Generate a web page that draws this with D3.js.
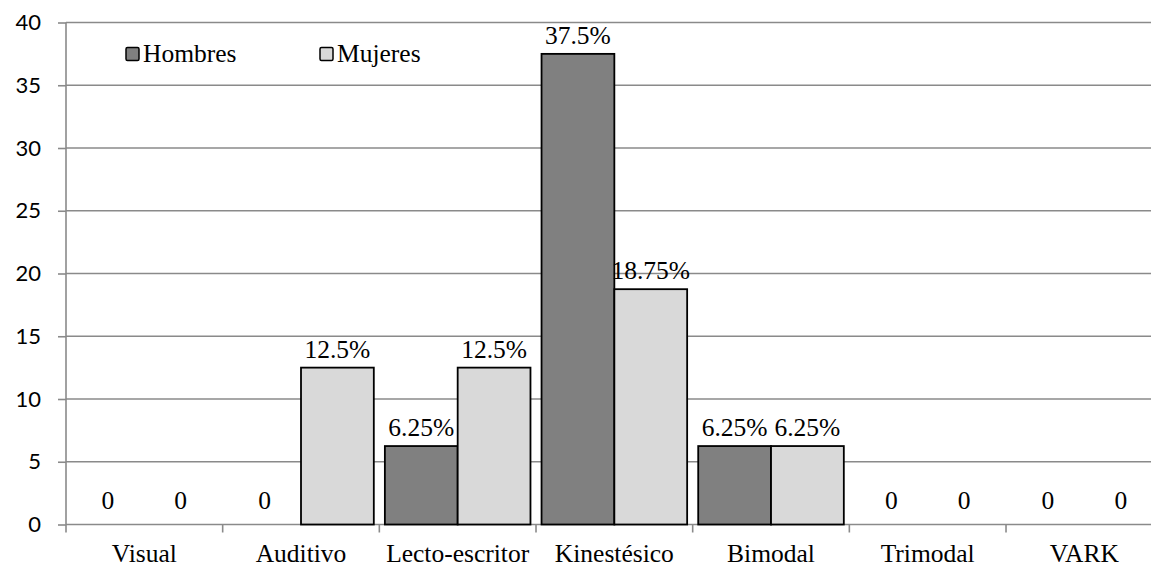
<!DOCTYPE html>
<html>
<head>
<meta charset="utf-8">
<script src="https://cdn.jsdelivr.net/npm/d3@7"></script>
<style>
  html, body { margin: 0; padding: 0; background: #fff; }
  svg { display: block; }
  .serif { font-family: "Liberation Serif", "Times New Roman", Tinos, "DejaVu Serif", serif; font-size: 25.5px; fill: #000; }
  .sans { font-family: Lato, "Open Sans", "Liberation Sans", sans-serif; font-size: 22px; fill: #000; }
</style>
</head>
<body>
<svg id="chart" width="1151" height="567"></svg>
<script>
// Learning-style categories (VARK) and percentage of each group
const categories = ["Visual", "Auditivo", "Lecto-escritor", "Kinestésico", "Bimodal", "Trimodal", "VARK"];
const seriesNames = ["Hombres", "Mujeres"];
const hombres = [0, 0, 6.25, 37.5, 6.25, 0, 0];
const mujeres = [0, 12.5, 12.5, 18.75, 6.25, 0, 0];
const yTicks = [0, 5, 10, 15, 20, 25, 30, 35, 40];
const colors = ["#808080", "#d9d9d9"];

const svg = d3.select("#chart");
const plotLeft = 66, plotTop = 22.5, plotBottom = 524.5;
const step = 156.67;
const plotRight = plotLeft + step * categories.length;

const x = d3.scaleBand().domain(categories).range([plotLeft, plotRight]).padding(0);
const xs = d3.scaleBand().domain(seriesNames).range([0, x.bandwidth()]).paddingInner(0).paddingOuter(0.076);
const y = d3.scaleLinear().domain([0, 40]).range([plotBottom, plotTop]);

const grid = "#8a8a8a";

// Y axis: tick stubs and numbers
const yAxis = d3.axisLeft(y).tickValues(yTicks).tickSize(8).tickPadding(17).tickFormat(d3.format("d"));
const gy = svg.append("g").attr("transform", `translate(${plotLeft},0)`).call(yAxis)
  .attr("font-family", null).attr("font-size", null);
gy.select(".domain").remove();
gy.selectAll(".tick line").attr("stroke", grid).attr("stroke-width", 1.6);
gy.selectAll(".tick text").attr("class", "sans").attr("fill", null);

// Horizontal gridlines
svg.append("g").selectAll("line").data(yTicks).join("line")
  .attr("x1", plotLeft).attr("x2", plotRight)
  .attr("y1", d => y(d)).attr("y2", d => y(d))
  .attr("stroke", grid).attr("stroke-width", 1.6);

// Vertical axis line
svg.append("line").attr("x1", plotLeft).attr("x2", plotLeft).attr("y1", plotTop).attr("y2", plotBottom)
  .attr("stroke", grid).attr("stroke-width", 1.6);

// Category boundary ticks below the baseline
const bounds = d3.range(categories.length + 1).map(i => plotLeft + i * x.step());
svg.append("g").selectAll("line").data(bounds).join("line")
  .attr("x1", d => d).attr("x2", d => d)
  .attr("y1", plotBottom).attr("y2", plotBottom + 8)
  .attr("stroke", grid).attr("stroke-width", 1.6);

// Category labels
svg.append("g").selectAll("text").data(categories).join("text")
  .attr("class", "serif")
  .attr("x", d => x(d) + x.bandwidth() / 2)
  .attr("y", 562)
  .attr("text-anchor", "middle")
  .text(d => d);

// Bars
const rows = categories.map((c, i) => ({ c, vals: [hombres[i], mujeres[i]] }));
const groups = svg.append("g").selectAll("g").data(rows).join("g")
  .attr("transform", d => `translate(${x(d.c)},0)`);

groups.selectAll("rect").data(d => d.vals.map((v, j) => ({ v, s: seriesNames[j], j })).filter(d => d.v > 0))
  .join("rect")
  .attr("x", d => xs(d.s))
  .attr("y", d => y(d.v))
  .attr("width", xs.bandwidth())
  .attr("height", d => y(0) - y(d.v))
  .attr("fill", d => colors[d.j])
  .attr("stroke", "#000").attr("stroke-width", 1.8);

// Value labels
const fmt = v => v === 0 ? "0" : `${v}%`;
groups.selectAll("text").data(d => d.vals.map((v, j) => ({ v, s: seriesNames[j] })))
  .join("text")
  .attr("class", "serif")
  .attr("x", d => xs(d.s) + xs.bandwidth() / 2)
  .attr("y", d => d.v === 0 ? y(0) - 16 : y(d.v) - 10)
  .attr("text-anchor", "middle")
  .text(d => fmt(d.v));

// Legend
const legendX = [126, 320];
const lg = svg.append("g").selectAll("g").data(seriesNames).join("g")
  .attr("transform", (d, i) => `translate(${legendX[i]},47.5)`);
lg.append("rect").attr("width", 13).attr("height", 13).attr("rx", 1.5)
  .attr("fill", (d, i) => colors[i]).attr("stroke", "#000").attr("stroke-width", 1.5);
lg.append("text").attr("class", "serif").attr("x", 17).attr("y", 14.5)
  .text(d => d);
</script>
</body>
</html>
